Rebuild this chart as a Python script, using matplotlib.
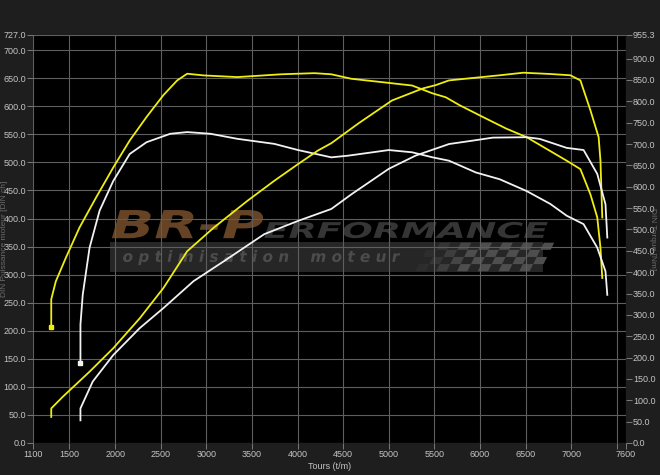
import matplotlib
matplotlib.use("Agg")
import matplotlib.pyplot as plt
from matplotlib.textpath import TextPath
from matplotlib.font_manager import FontProperties
from matplotlib.patches import PathPatch, Rectangle, Polygon
from matplotlib.transforms import Affine2D

plt.rcParams['font.family'] = ['Liberation Sans', 'DejaVu Sans']

# ---------------------------
# Data
# ---------------------------
# tuned (yellow)
tuned_pw_rpm = [1300, 1300, 1350, 1460, 1610, 1790, 1980, 2160, 2345, 2530, 2680, 2790, 2970, 3340,
                3820, 4185, 4370, 4590, 4925, 5255, 5480, 5625, 5775, 6030, 6290, 6510, 6730, 6950,
                7100, 7210, 7285, 7320, 7340]
tuned_pw = [207, 256, 288, 330, 384, 437, 491, 539, 581, 620, 646, 658, 655, 652,
            657, 659, 657, 649, 643, 637, 623, 616, 602, 581, 560, 545, 524, 503,
            488, 443, 402, 348, 294]

tuned_tq_rpm = [1300, 1300, 1425, 1720, 1980, 2270, 2530, 2790, 3080, 3450, 3745, 4005, 4225, 4370,
                4665, 5035, 5370, 5515, 5660, 5845, 6215, 6475, 6770, 6990, 7100, 7210, 7300, 7320, 7340]
tuned_tq = [61, 81, 108, 167, 222, 292, 363, 449, 504, 567, 614, 653, 685, 702,
            748, 802, 830, 838, 849, 853, 861, 867, 864, 861, 849, 779, 716, 661, 528]

# stock (white)
stock_pw_rpm = [1620, 1620, 1645, 1720, 1830, 1980, 2160, 2345, 2605, 2790, 3045, 3340, 3745, 4005,
                4370, 4555, 5000, 5255, 5480, 5660, 5955, 6215, 6510, 6770, 6950, 7135, 7285, 7375, 7395]
stock_pw = [142, 211, 264, 348, 414, 467, 515, 536, 551, 554, 551, 542, 533, 522,
            509, 512, 522, 518, 509, 503, 482, 470, 449, 426, 405, 390, 348, 306, 264]

stock_tq_rpm = [1620, 1620, 1755, 1980, 2270, 2530, 2860, 3195, 3635, 4005, 4370, 4595, 5000, 5295,
                5660, 5920, 6140, 6510, 6655, 6950, 7135, 7285, 7375, 7395]
stock_tq = [53, 81, 144, 206, 269, 316, 379, 426, 489, 520, 548, 583, 642, 673,
            700, 708, 715, 716, 712, 691, 686, 630, 559, 481]

x_ticks = [1100, 1500, 2000, 2500, 3000, 3500, 4000, 4500, 5000, 5500, 6000, 6500, 7000, 7500, 7600]
x_labels = ['1100', '1500', '2000', '2500', '3000', '3500', '4000', '4500', '5000', '5500',
            '6000', '6500', '7000', '', '7600']
pw_ticks = [0, 50, 100, 150, 200, 250, 300, 350, 400, 450, 500, 550, 600, 650, 700, 727]
tq_ticks = [0, 50, 100, 150, 200, 250, 300, 350, 400, 450, 500, 550, 600, 650, 700, 750, 800, 850, 900, 955.3]

BG = '#1e1e1e'
GRID = '#5e5e5e'
TXT = '#c4c4c4'
YEL = '#eeee10'
WHT = '#f2f2f2'

fig = plt.figure(figsize=(6.6, 4.75), dpi=100, facecolor=BG)
ax = fig.add_axes([33 / 660, 1 - 443 / 475, 593 / 660, 408 / 475])
ax.set_facecolor('black')
ax2 = ax.twinx()

# ---------------------------
# Watermark (behind everything)
# ---------------------------
def fit_text(s, x0, y0, x1, y1, color, z=0.5):
    tp = TextPath((0, 0), s, size=1,
                  prop=FontProperties(family='DejaVu Sans', weight='bold', style='italic'))
    bb = tp.get_extents()
    tr = Affine2D().translate(-bb.x0, -bb.y0).scale((x1 - x0) / bb.width, (y1 - y0) / bb.height).translate(x0, y0)
    ax.add_patch(PathPatch(tr.transform_path(tp), transform=ax.transAxes, fc=color, ec='none', zorder=z))

ax.add_patch(Rectangle((0.130, 0.419), 0.730, 0.074, transform=ax.transAxes,
                       fc='#262626', ec='none', zorder=0.3))
fit_text('BR-P', 0.133, 0.502, 0.388, 0.571, '#654324')
fit_text('ERFORMANCE', 0.390, 0.502, 0.868, 0.542, '#353535')
fit_text('o p t i m i s a t i o n    m o t e u r', 0.152, 0.436, 0.619, 0.473, '#4c4c4c')

# checkered flag
n_cols, n_rows = 12, 4
fx0, fx1, fy0, fy1 = 0.645, 0.855, 0.421, 0.491
cw = (fx1 - fx0) / n_cols
ch = (fy1 - fy0) / n_rows
for r in range(n_rows):
    for c in range(n_cols):
        if (r + c) % 2:
            continue
        x = fx0 + c * cw + r * 0.006
        y = fy0 + r * ch
        fade = min(1.0, (c + 1) / 5)
        ax.add_patch(Polygon([(x, y), (x + cw, y), (x + cw + 0.006, y + ch), (x + 0.006, y + ch)],
                             closed=True, transform=ax.transAxes, fc='#4e4e4e', ec='none',
                             alpha=fade, zorder=0.4))

# ---------------------------
# Curves
# ---------------------------
ax.plot(tuned_pw_rpm, tuned_pw, color=YEL, lw=1.3, zorder=3)
ax.plot(stock_pw_rpm, stock_pw, color=WHT, lw=1.3, zorder=3)
ax.plot(tuned_pw_rpm[0], tuned_pw[0], 's', color=YEL, ms=3, zorder=4)
ax.plot(stock_pw_rpm[0], stock_pw[0], 's', color=WHT, ms=3, zorder=4)
ax2.plot(tuned_tq_rpm, tuned_tq, color=YEL, lw=1.3)
ax2.plot(stock_tq_rpm, stock_tq, color=WHT, lw=1.3)

ax.set_xlim(1100, 7600)
ax.set_ylim(0, 727)
ax2.set_ylim(0, 955.3)

ax.set_xticks(x_ticks)
ax.set_xticklabels(x_labels)
ax.set_yticks(pw_ticks)
ax.set_yticklabels([f'{v:.1f}' for v in pw_ticks])
ax2.set_yticks(tq_ticks)
ax2.set_yticklabels([f'{v:.1f}' for v in tq_ticks])

ax.grid(True, color=GRID, lw=0.8, zorder=1)
ax.set_axisbelow(False)
for line in ax.get_xgridlines() + ax.get_ygridlines():
    line.set_zorder(1)

for a in (ax, ax2):
    a.tick_params(colors=TXT, labelsize=6.5, length=4, width=0.6, pad=1)
    for sp in a.spines.values():
        sp.set_visible(False)
ax.tick_params(axis='both', color='#8a8a8a')
ax2.tick_params(axis='y', color='#8a8a8a')

ax.set_xlabel('Tours (t/m)', color=TXT, fontsize=6.5, labelpad=2)
ax.set_ylabel('DIN Puissance moteur [DIN ch]', color='#6a6a6a', fontsize=6)
ax.yaxis.set_label_coords(-0.043, 0.5)
ax2.set_ylabel('DIN Torque [Nm]', color='#6a6a6a', fontsize=6, rotation=270)
ax2.yaxis.set_label_coords(1.05, 0.5)

fig.savefig('out.png', dpi=100, facecolor=BG)
